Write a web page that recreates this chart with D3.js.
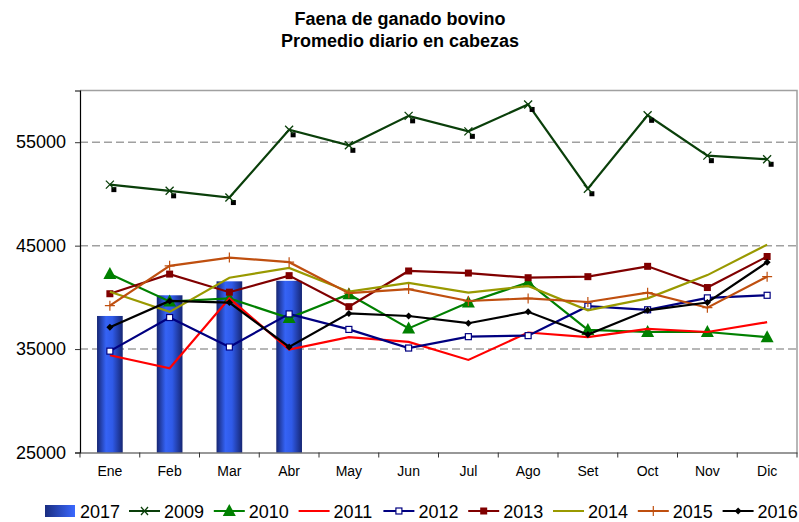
<!DOCTYPE html>
<html>
<head>
<meta charset="utf-8">
<script src="https://cdn.jsdelivr.net/npm/d3@7"></script>
<style>
  body { margin: 0; background: #fff; }
  svg { font-family: "Liberation Sans", Arial, sans-serif; }
</style>
</head>
<body>
<svg id="chart" width="799" height="522"></svg>
<script>
// data
const months = ["Ene", "Feb", "Mar", "Abr", "May", "Jun", "Jul", "Ago", "Set", "Oct", "Nov", "Dic"];
const yTicks = [25000, 35000, 45000, 55000];
const bars2017 = [38200, 40200, 41550, 41600];
const y2009 = [50900, 50300, 49650, 56200, 54700, 57550, 56050, 58650, 50500, 57600, 53700, 53350];
const y2010 = [42250, 39600, 39900, 38000, 40300, 37000, 39500, 41450, 36850, 36650, 36650, 36150];
const y2011 = [34400, 33150, 39900, 34950, 36150, 35700, 33950, 36600, 36150, 36950, 36650, 37600];
const y2012 = [34800, 38050, 35200, 38400, 36900, 35100, 36200, 36300, 39150, 38800, 39950, 40200];
const y2013 = [40350, 42250, 40500, 42100, 39100, 42550, 42350, 41900, 42000, 43000, 40950, 43950];
const y2014 = [40550, 38600, 41900, 42850, 40550, 41400, 40450, 41100, 38750, 39900, 42150, 45100];
const y2015 = [39200, 43050, 43850, 43400, 40400, 40800, 39650, 39900, 39550, 40450, 39000, 42000];
const y2016 = [37100, 39650, 39500, 35200, 38450, 38200, 37500, 38600, 36400, 38750, 39500, 43400];

const series = [
  { name: "2009", values: y2009, color: "#0a3f0a", marker: "x" },
  { name: "2010", values: y2010, color: "#008000", marker: "triangle" },
  { name: "2011", values: y2011, color: "#ff0000", marker: "none" },
  { name: "2012", values: y2012, color: "#000080", marker: "openSquare" },
  { name: "2013", values: y2013, color: "#800000", marker: "square" },
  { name: "2014", values: y2014, color: "#999900", marker: "none" },
  { name: "2015", values: y2015, color: "#bf4f0f", marker: "plus" },
  { name: "2016", values: y2016, color: "#000000", marker: "diamond" },
];

const svg = d3.select("#chart");
const plot = { left: 80, right: 797, top: 90.5, bottom: 452.5 };

const x = d3.scaleBand().domain(months).range([plot.left, plot.right]);
const y = d3.scaleLinear().domain([25000, 60000]).range([plot.bottom, plot.top]);

// bar gradient
const defs = svg.append("defs");
const barGrad = defs.append("linearGradient").attr("id", "barGrad");
barGrad.append("stop").attr("offset", "0%").attr("stop-color", "#162673");
barGrad.append("stop").attr("offset", "35%").attr("stop-color", "#3563f5");
barGrad.append("stop").attr("offset", "60%").attr("stop-color", "#2f5ae8");
barGrad.append("stop").attr("offset", "100%").attr("stop-color", "#162673");
const legGrad = defs.append("linearGradient").attr("id", "legGrad");
legGrad.append("stop").attr("offset", "0%").attr("stop-color", "#1a2d80");
legGrad.append("stop").attr("offset", "100%").attr("stop-color", "#3a68ff");

// title
svg.append("text")
  .attr("x", 400).attr("y", 25)
  .attr("text-anchor", "middle")
  .attr("font-size", 18).attr("font-weight", "bold")
  .text("Faena de ganado bovino");
svg.append("text")
  .attr("x", 400).attr("y", 47)
  .attr("text-anchor", "middle")
  .attr("font-size", 18).attr("font-weight", "bold")
  .text("Promedio diario en cabezas");

// frame (top and right, gray)
svg.append("path")
  .attr("d", `M${plot.left},${plot.top}H${plot.right}V${plot.bottom}`)
  .attr("fill", "none").attr("stroke", "#a0a0a0").attr("stroke-width", 1.5);

// gridlines
svg.append("g")
  .selectAll("line")
  .data(yTicks.filter((d) => d > 25000))
  .join("line")
  .attr("x1", plot.left).attr("x2", plot.right)
  .attr("y1", (d) => y(d)).attr("y2", (d) => y(d))
  .attr("stroke", "#a0a0a0").attr("stroke-width", 1.5)
  .attr("stroke-dasharray", "8,4");

// bars
const barW = x.bandwidth() * 0.43;
svg.append("g")
  .selectAll("rect")
  .data(bars2017)
  .join("rect")
  .attr("x", (d, i) => x(months[i]) + x.bandwidth() / 2 - barW / 2)
  .attr("y", (d) => y(d))
  .attr("width", barW)
  .attr("height", (d) => y(25000) - y(d))
  .attr("fill", "url(#barGrad)");

// axes
const yAxis = svg.append("g")
  .attr("transform", `translate(${plot.left},0)`)
  .call(d3.axisLeft(y).tickValues(yTicks).tickFormat(d3.format("d")).tickSize(5).tickPadding(9));
yAxis.select(".domain").attr("stroke", "#000").attr("stroke-width", 1.2);
yAxis.selectAll(".tick line").attr("stroke", "#333");
yAxis.selectAll("text").attr("font-size", 18).attr("fill", "#000")
  .attr("font-family", "Liberation Sans, Arial, sans-serif");

const xAxis = svg.append("g")
  .attr("transform", `translate(0,${plot.bottom})`)
  .call(d3.axisBottom(x).tickSize(0).tickPadding(14));
xAxis.select(".domain").attr("stroke", "#333").attr("stroke-width", 1.2);
xAxis.selectAll("text").attr("font-size", 14).attr("fill", "#000")
  .attr("font-family", "Liberation Sans, Arial, sans-serif");
// category separator ticks
svg.append("g")
  .selectAll("line")
  .data(months.concat(["end"]))
  .join("line")
  .attr("x1", (d, i) => (i < months.length ? x(d) : plot.right))
  .attr("x2", (d, i) => (i < months.length ? x(d) : plot.right))
  .attr("y1", plot.bottom).attr("y2", plot.bottom + 5)
  .attr("stroke", "#333").attr("stroke-width", 1);

// lines
const cx = (i) => x(months[i]) + x.bandwidth() / 2;
const line = d3.line().x((d, i) => cx(i)).y((d) => y(d));

function drawMarker(g, type, color, px, py) {
  if (type === "x") {
    g.append("rect").attr("x", px + 1.5).attr("y", py + 2.5).attr("width", 5).attr("height", 5).attr("fill", "#000");
    g.append("path").attr("d", `M${px - 4},${py - 4}L${px + 4},${py + 4}M${px - 4},${py + 4}L${px + 4},${py - 4}`)
      .attr("stroke", color).attr("stroke-width", 1.3);
  } else if (type === "triangle") {
    g.append("path").attr("d", `M${px},${py - 7}L${px + 6.5},${py + 5}L${px - 6.5},${py + 5}Z`).attr("fill", color);
  } else if (type === "openSquare") {
    g.append("rect").attr("x", px - 3).attr("y", py - 3).attr("width", 6).attr("height", 6)
      .attr("fill", "#fff").attr("stroke", color).attr("stroke-width", 1.2);
  } else if (type === "square") {
    g.append("rect").attr("x", px - 3.5).attr("y", py - 3.5).attr("width", 7).attr("height", 7).attr("fill", color);
  } else if (type === "plus") {
    g.append("path").attr("d", `M${px - 5},${py}H${px + 5}M${px},${py - 5}V${py + 5}`)
      .attr("stroke", color).attr("stroke-width", 1.2);
  } else if (type === "diamond") {
    g.append("path").attr("d", `M${px},${py - 3.5}L${px + 3.5},${py}L${px},${py + 3.5}L${px - 3.5},${py}Z`).attr("fill", color);
  }
}

series.forEach((s) => {
  const g = svg.append("g");
  g.append("path")
    .datum(s.values)
    .attr("d", line)
    .attr("fill", "none")
    .attr("stroke", s.color)
    .attr("stroke-width", 2.2);
  s.values.forEach((v, i) => drawMarker(g, s.marker, s.color, cx(i), y(v)));
});

// legend
const legendY = 511;
const leg = svg.append("g");
leg.append("rect").attr("x", 45).attr("y", legendY - 6).attr("width", 30).attr("height", 12).attr("fill", "url(#legGrad)");
leg.append("text").attr("x", 80).attr("y", legendY + 6.5).attr("font-size", 18).text("2017");
series.forEach((s, k) => {
  const x0 = 129 + k * 84.8;
  leg.append("line").attr("x1", x0).attr("x2", x0 + 31).attr("y1", legendY).attr("y2", legendY)
    .attr("stroke", s.color).attr("stroke-width", 2);
  if (s.marker !== "none") {
    const mg = leg.append("g");
    if (s.marker === "x") {
      mg.append("path").attr("d", `M${x0 + 12},${legendY - 4}L${x0 + 19},${legendY + 4}M${x0 + 12},${legendY + 4}L${x0 + 19},${legendY - 4}`)
        .attr("stroke", s.color).attr("stroke-width", 1.3);
    } else {
      drawMarker(mg, s.marker, s.color, x0 + 15.5, legendY);
    }
  }
  leg.append("text").attr("x", x0 + 35).attr("y", legendY + 6.5).attr("font-size", 18).text(s.name);
});
</script>
</body>
</html>
